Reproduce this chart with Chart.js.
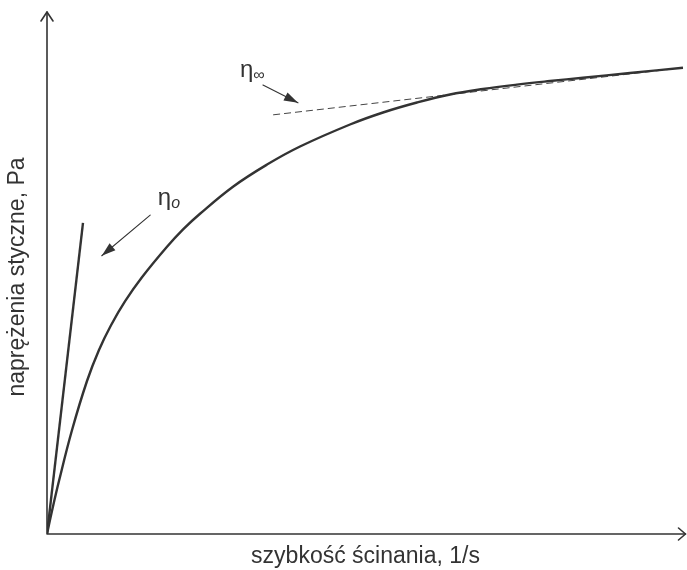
<!DOCTYPE html>
<html>
<head>
<meta charset="utf-8">
<script src="https://cdn.jsdelivr.net/npm/chart.js@4/dist/chart.umd.min.js"></script>
<style>
  html, body { margin: 0; padding: 0; background: #fff; }
  #wrap { width: 687px; height: 570px; }
</style>
</head>
<body>
<div id="wrap"><canvas id="myChart" width="687" height="570"></canvas></div>
<script>
// flow curve: shear rate (x) vs shear stress (y), arbitrary units 0..100
const curveX = [0, 0.78, 1.88, 3.92, 6.28, 8.16, 10.05, 12.24, 14.91, 18.84, 21.4, 24.02, 29.20, 34.54, 39.72, 47.57, 52.75, 58.08, 63.27, 68.45, 73.78, 78.96, 84.14, 91.52, 99.84];
const curveY = [0, 4.41, 10.15, 19.87, 29.31, 35.25, 40.00, 44.56, 49.18, 55.02, 58.4, 61.35, 66.53, 70.77, 74.23, 78.45, 80.75, 82.66, 84.20, 85.25, 86.09, 86.78, 87.41, 88.31, 89.33];

// initial tangent (eta_0) and high-shear tangent (eta_inf)
const eta0X = [0, 5.65];
const eta0Y = [0, 59.6];
const etaInfX = [35.5, 99.8];
const etaInfY = [80.3, 89.3];

const xTitle = 'szybkość ścinania, 1/s';
const yTitle = 'naprężenia styczne, Pa';

// annotation labels and pointer arrows (data units)
const notes = [
    { main: 'η', sub: '∞', subItalic: false, x: 30.3, y: 87.5, from: [33.9, 86.0], to: [39.4, 82.6] },
    { main: 'η', sub: 'o', subItalic: true, x: 17.4, y: 63.0, from: [16.2, 61.1], to: [8.6, 53.3] }
];

function toPoints(xs, ys) {
    return xs.map((x, i) => ({ x: x, y: ys[i] }));
}

const ink = '#333333';
const fontFam = '"Liberation Sans", Arial, sans-serif';

function arrowHead(ctx, x1, y1, x2, y2, len, half) {
    const a = Math.atan2(y2 - y1, x2 - x1);
    ctx.beginPath();
    ctx.moveTo(x2, y2);
    ctx.lineTo(x2 - len * Math.cos(a) + half * Math.sin(a), y2 - len * Math.sin(a) - half * Math.cos(a));
    ctx.lineTo(x2 - len * Math.cos(a) - half * Math.sin(a), y2 - len * Math.sin(a) + half * Math.cos(a));
    ctx.closePath();
    ctx.fill();
}

const sketchPlugin = {
    id: 'sketch',
    afterDatasetsDraw(chart) {
        const ctx = chart.ctx;
        const area = chart.chartArea;
        const xs = chart.scales.x, ys = chart.scales.y;
        ctx.save();
        ctx.strokeStyle = ink;
        ctx.fillStyle = ink;
        ctx.lineWidth = 1.6;
        ctx.lineCap = 'round';
        ctx.lineJoin = 'round';

        const ox = xs.getPixelForValue(0), oy = ys.getPixelForValue(0);
        // axes
        ctx.beginPath();
        ctx.moveTo(ox, area.top);
        ctx.lineTo(ox, oy);
        ctx.lineTo(area.right + 1.5, oy);
        ctx.stroke();
        // open arrow heads
        ctx.beginPath();
        ctx.moveTo(ox - 6, area.top + 9);
        ctx.lineTo(ox, area.top);
        ctx.lineTo(ox + 6, area.top + 9);
        ctx.moveTo(area.right - 5.5, oy - 6);
        ctx.lineTo(area.right + 1.5, oy);
        ctx.lineTo(area.right - 5.5, oy + 6);
        ctx.stroke();

        // annotations
        notes.forEach(n => {
            const fx = xs.getPixelForValue(n.from[0]), fy = ys.getPixelForValue(n.from[1]);
            const tx = xs.getPixelForValue(n.to[0]), ty = ys.getPixelForValue(n.to[1]);
            ctx.lineWidth = 1.1;
            ctx.beginPath();
            ctx.moveTo(fx, fy);
            ctx.lineTo(tx, ty);
            ctx.stroke();
            arrowHead(ctx, fx, fy, tx, ty, 14, 4.5);

            const px = xs.getPixelForValue(n.x), py = ys.getPixelForValue(n.y);
            ctx.textBaseline = 'alphabetic';
            ctx.textAlign = 'left';
            ctx.font = '24px ' + fontFam;
            ctx.fillText(n.main, px, py);
            const w = ctx.measureText(n.main).width;
            ctx.font = (n.subItalic ? 'italic ' : '') + '16px ' + fontFam;
            ctx.fillText(n.sub, px + w, py + 3);
        });

        // axis titles
        ctx.font = '23px ' + fontFam;
        ctx.textAlign = 'center';
        ctx.textBaseline = 'middle';
        ctx.fillText(xTitle, (area.left + area.right) / 2, 557);
        ctx.translate(18, 277);
        ctx.rotate(-Math.PI / 2);
        ctx.fillText(yTitle, 0, 0);
        ctx.restore();
    }
};

const config = {
    type: 'scatter',
    data: {
        datasets: [
            {
                label: 'curve',
                data: toPoints(curveX, curveY),
                showLine: true,
                borderColor: ink,
                borderWidth: 2.4,
                pointRadius: 0,
                tension: 0.4
            },
            {
                label: 'eta0',
                data: toPoints(eta0X, eta0Y),
                showLine: true,
                borderColor: ink,
                borderWidth: 2.4,
                pointRadius: 0
            },
            {
                label: 'etaInf',
                data: toPoints(etaInfX, etaInfY),
                showLine: true,
                borderColor: '#444444',
                borderWidth: 1,
                borderDash: [7, 4],
                pointRadius: 0
            }
        ]
    },
    options: {
        responsive: false,
        animation: false,
        layout: { padding: { left: 47, right: 3, top: 12, bottom: 36 } },
        plugins: {
            legend: { display: false },
            tooltip: { enabled: false }
        },
        scales: {
            x: { type: 'linear', min: 0, max: 100, display: false },
            y: { type: 'linear', min: 0, max: 100, display: false }
        }
    },
    plugins: [sketchPlugin]
};

const myChart = new Chart(document.getElementById('myChart'), config);
</script>
</body>
</html>
